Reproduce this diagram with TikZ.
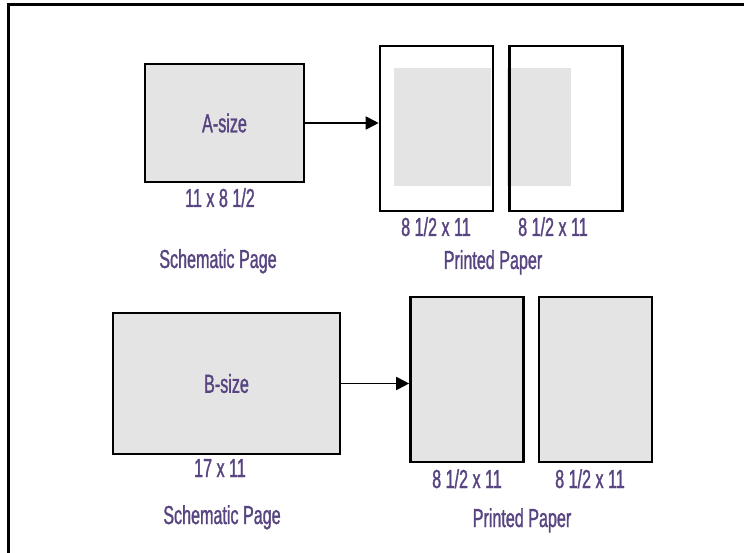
\documentclass[tikz,border=0pt]{standalone}
\usepackage{fontspec}
\setmainfont{Liberation Sans}[FakeStretch=0.62, FakeBold=1.2]
\usetikzlibrary{arrows.meta,positioning}
\definecolor{pagegray}{RGB}{228,228,228}
\definecolor{labelpurple}{RGB}{88,68,128}

\begin{document}
\begin{tikzpicture}[x=1pt, y=-1pt,
  font=\fontsize{26}{30}\selectfont,
  arrow/.style={-{Triangle[length=13pt,width=13pt]}, line width=1.8pt},
  sheet/.style={rectangle, draw, line width=2.6pt, fill=pagegray,
                inner sep=0pt, text=labelpurple},
  paper/.style={rectangle, draw, line width=2.6pt, inner sep=0pt,
                minimum width=113pt, minimum height=165pt},
  lbl/.style={text=labelpurple, inner sep=0pt, anchor=base}
]
\useasboundingbox (0,0) rectangle (744,553);

% --- Frame ---
\draw[line width=3pt] (8,553) -- (8,5) -- (744,5);

% --- A-size row ---
\node[sheet, minimum width=159pt, minimum height=118pt] (asize) at (224.5,123) {A-size};
\fill[pagegray] (394,68) rectangle (491,186);
\fill[pagegray] (507,68) rectangle (571,186);
\node[paper] (pa1) at (436.5,128.5) {};
\node[paper, right=14pt of pa1] (pa2) {};

\node[lbl] (adim) at (220,207) {11 x 8 1/2};
\node[lbl] (pa1dim) at (436,236) {8 1/2 x 11};
\node[lbl] (pa2dim) at (553,236) {8 1/2 x 11};
\node[lbl] (aschem) at (218,268) {Schematic Page};
\node[lbl] (aprint) at (493,269) {Printed Paper};

\draw[arrow] (asize.east) -- (asize.east -| pa1.west);

% --- B-size row ---
\node[sheet, minimum width=227pt, minimum height=141pt] (bsize) at (226.5,383.5) {B-size};
\node[paper, fill=pagegray] (pb1) at (467,379.5) {};
\node[paper, fill=pagegray, right=13pt of pb1] (pb2) {};

\node[lbl] (bdim) at (220,477) {17 x 11};
\node[lbl] (pb1dim) at (467,488) {8 1/2 x 11};
\node[lbl] (pb2dim) at (590,488) {8 1/2 x 11};
\node[lbl] (bschem) at (222,524) {Schematic Page};
\node[lbl] (bprint) at (522,527) {Printed Paper};

\draw[arrow] (bsize.east) -- (bsize.east -| pb1.west);

\end{tikzpicture}
\end{document}
